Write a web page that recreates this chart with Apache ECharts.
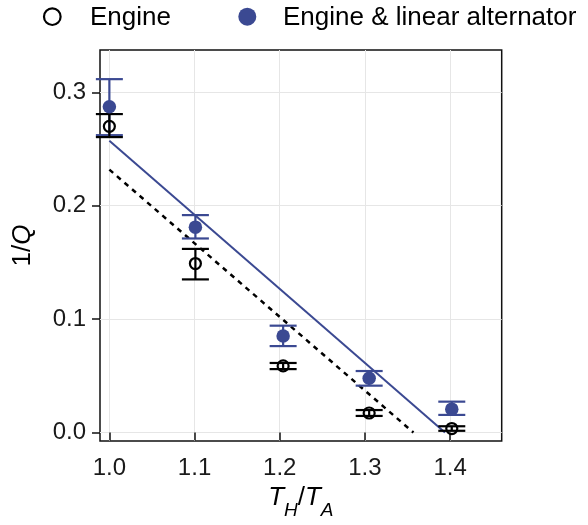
<!DOCTYPE html>
<html><head><meta charset="utf-8">
<script src="https://cdn.jsdelivr.net/npm/echarts@6/dist/echarts.min.js"></script>
<style>html,body{margin:0;padding:0;background:#fff}#c{width:588px;height:525px}</style>
</head><body><div id="c"></div>
<script>
// ---- data ----
const ratioTH = [1.0, 1.101, 1.204, 1.305, 1.402];
const engineInvQ = [0.270, 0.149, 0.0587, 0.0172, 0.0035];
const engineLow  = [0.2605, 0.135, 0.0559, 0.0146, 0.0015];
const engineHigh = [0.2808, 0.1619, 0.0613, 0.0198, 0.0055];
const altInvQ = [0.2872, 0.1811, 0.0851, 0.0478, 0.0206];
const altLow  = [0.2622, 0.1711, 0.0762, 0.0413, 0.0155];
const altHigh = [0.3116, 0.1917, 0.0942, 0.0542, 0.0272];
const engineFitX = [1.0, 1.357];
const engineFitY = [0.2318, 0.0];
const altFitX = [1.0, 1.394];
const altFitY = [0.2572, 0.0];
const xTicks = [1.0, 1.1, 1.2, 1.3, 1.4];
const yTicks = [0.0, 0.1, 0.2, 0.3];
const seriesNames = ['Engine', 'Engine & linear alternator'];

const BLUE = '#3B4992';
const FONT = 'Liberation Sans, Arial, sans-serif';

function errRender(color) {
  return function (params, api) {
    const x = api.value(0), lo = api.value(1), hi = api.value(2);
    const pLo = api.coord([x, lo]), pHi = api.coord([x, hi]);
    const hw = 13.5;
    const style = { stroke: color, lineWidth: 2.2, fill: null };
    return { type: 'group', children: [
      { type: 'line', shape: { x1: pLo[0], y1: pLo[1], x2: pHi[0], y2: pHi[1] }, style },
      { type: 'line', shape: { x1: pLo[0] - hw, y1: pLo[1], x2: pLo[0] + hw, y2: pLo[1] }, style },
      { type: 'line', shape: { x1: pHi[0] - hw, y1: pHi[1], x2: pHi[0] + hw, y2: pHi[1] }, style }
    ]};
  };
}

const zip = (a, b) => a.map((v, i) => [v, b[i]]);
const zip3 = (a, b, c) => a.map((v, i) => [v, b[i], c[i]]);

const chart = echarts.init(document.getElementById('c'), null, { renderer: 'canvas' });
chart.setOption({
  animation: false,
  backgroundColor: '#fff',
  textStyle: { fontFamily: FONT },
  grid: { left: 100, right: 86.3, top: 50, bottom: 74, show: true, borderColor: '#111', borderWidth: 1.5, backgroundColor: 'transparent' },
  graphic: [
    { type: 'circle', shape: { cx: 52.3, cy: 16.7, r: 8.3 }, style: { fill: 'none', stroke: '#000', lineWidth: 2.2 } },
    { type: 'text', x: 90, y: 17.5, style: { text: seriesNames[0], font: '26px ' + FONT, fill: '#000', verticalAlign: 'middle', align: 'left' } },
    { type: 'circle', shape: { cx: 247.3, cy: 16.7, r: 9 }, style: { fill: BLUE } },
    { type: 'text', x: 283, y: 17.5, style: { text: seriesNames[1], font: '26px ' + FONT, fill: '#000', verticalAlign: 'middle', align: 'left' } }
  ],
  xAxis: {
    type: 'value', min: 0.989, max: 1.4606,
    name: '{it|T}{sub|H}{n|/}{it|T}{sub|A}',
    nameLocation: 'middle', nameGap: 44,
    nameTextStyle: {
      rich: {
        it: { fontSize: 26, fontStyle: 'italic', fontFamily: FONT, color: '#000', lineHeight: 26, verticalAlign: 'top' },
        n: { fontSize: 26, fontFamily: FONT, color: '#000', lineHeight: 26, verticalAlign: 'top' },
        sub: { fontSize: 19, fontStyle: 'italic', fontFamily: FONT, color: '#000', lineHeight: 19, padding: [16, 0, 0, 0], verticalAlign: 'top' }
      }
    },
    axisLine: { show: false },
    axisTick: { show: true, length: 8, lineStyle: { color: '#111', width: 1.5 }, customValues: xTicks },
    axisLabel: { customValues: xTicks, formatter: v => v.toFixed(1), fontSize: 24, color: '#1a1a1a', margin: 15, fontFamily: FONT },
    splitLine: { show: true, lineStyle: { color: '#e6e6e6', width: 1 } }
  },
  yAxis: {
    type: 'value', min: -0.0075, max: 0.3373,
    name: '{n|1/}{it|Q}',
    nameLocation: 'middle', nameGap: 64, nameRotate: 90,
    nameTextStyle: {
      rich: {
        it: { fontSize: 26, fontStyle: 'italic', fontFamily: FONT, color: '#000' },
        n: { fontSize: 26, fontFamily: FONT, color: '#000' }
      }
    },
    axisLine: { show: false },
    axisTick: { show: true, length: 8, lineStyle: { color: '#111', width: 1.5 }, customValues: yTicks },
    axisLabel: { customValues: yTicks, formatter: v => v.toFixed(1), fontSize: 24, color: '#1a1a1a', margin: 14, fontFamily: FONT },
    splitLine: { show: true, lineStyle: { color: '#e6e6e6', width: 1 } }
  },
  series: [
    { type: 'line', data: zip(altFitX, altFitY), showSymbol: false, symbol: 'none', lineStyle: { color: BLUE, width: 2 }, z: 2 },
    { type: 'line', data: zip(engineFitX, engineFitY), showSymbol: false, symbol: 'none', lineStyle: { color: '#000', width: 2.5, type: [5, 5] }, z: 2 },
    { type: 'custom', name: seriesNames[1] + ' err', renderItem: errRender(BLUE), data: zip3(ratioTH, altLow, altHigh), encode: { x: 0, y: [1, 2] }, z: 3, clip: false },
    { type: 'custom', name: seriesNames[0] + ' err', renderItem: errRender('#000'), data: zip3(ratioTH, engineLow, engineHigh), encode: { x: 0, y: [1, 2] }, z: 4, clip: false },
    { type: 'scatter', name: seriesNames[1], data: zip(ratioTH, altInvQ), symbol: 'circle', symbolSize: 13.5, itemStyle: { color: BLUE, opacity: 1 }, z: 5 },
    { type: 'scatter', name: seriesNames[0], data: zip(ratioTH, engineInvQ), symbol: 'circle', symbolSize: 11, itemStyle: { color: 'rgba(0,0,0,0)', borderColor: '#000', borderWidth: 2.2, opacity: 1 }, z: 6 }
  ]
});
</script></body></html>
